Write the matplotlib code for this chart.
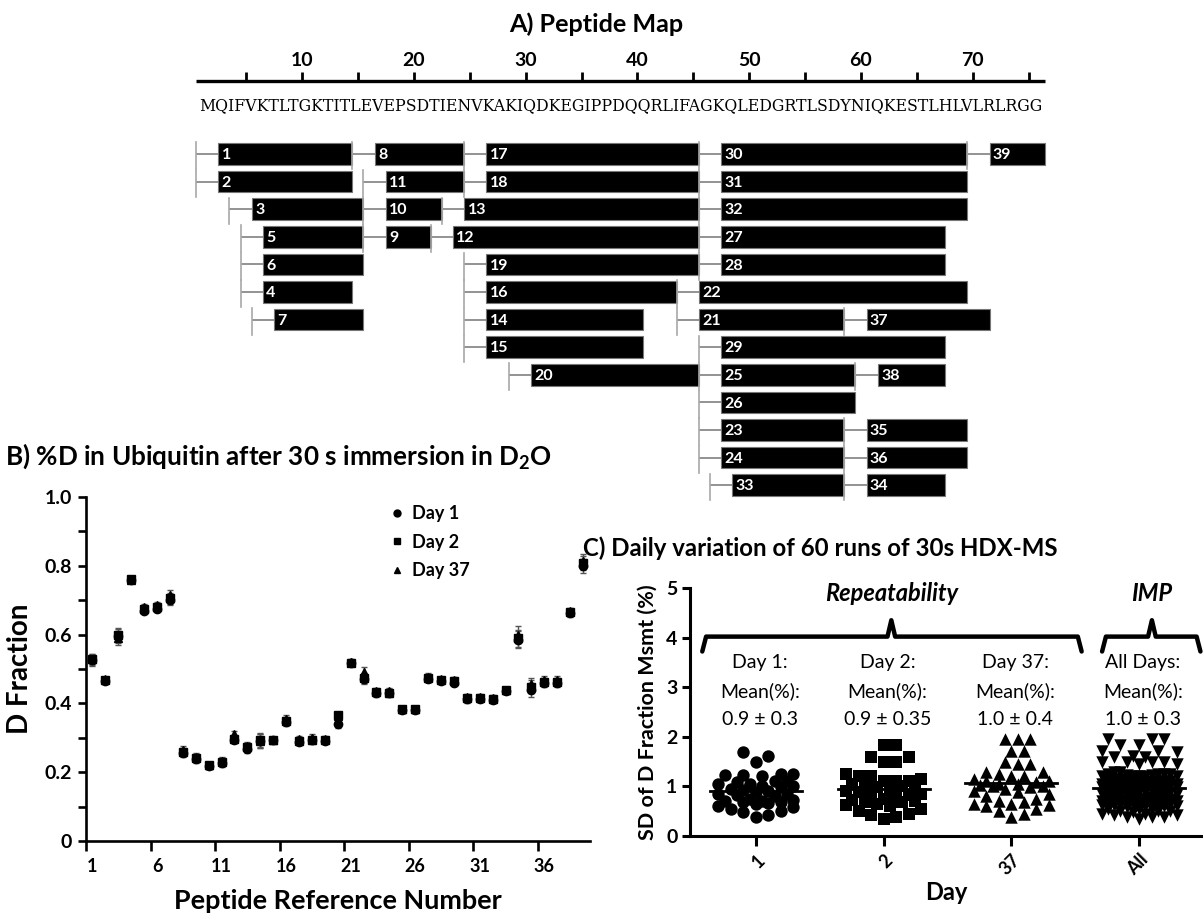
import matplotlib
matplotlib.use('Agg')
import matplotlib.pyplot as plt
from matplotlib.patches import Rectangle
from matplotlib.lines import Line2D
import numpy as np

plt.rcParams['font.family'] = ['Lato', 'DejaVu Sans']
plt.rcParams['mathtext.fontset'] = 'custom'
plt.rcParams['mathtext.rm'] = 'Lato:bold'
plt.rcParams['mathtext.it'] = 'Lato:bold:italic'
plt.rcParams['mathtext.bf'] = 'Lato:bold'

# ---------------- data ----------------
sequence = "MQIFVKTLTGKTITLEVEPSDTIENVKAKIQDKEGIPPDQQRLIFAGKQLEDGRTLSDYNIQKESTLHLVLRLRGG"
ruler_ticks = [5, 10, 15, 20, 25, 30, 35, 40, 45, 50, 55, 60, 65, 70, 75]
ruler_labels = [10, 20, 30, 40, 50, 60, 70]

pep_id    = [1, 2, 3, 4, 5, 6, 7, 8, 9, 10, 11, 12, 13, 14, 15, 16, 17, 18, 19, 20,
             21, 22, 23, 24, 25, 26, 27, 28, 29, 30, 31, 32, 33, 34, 35, 36, 37, 38, 39]
pep_start = [1, 1, 4, 5, 5, 5, 6, 15, 16, 16, 16, 22, 23, 25, 25, 25, 25, 25, 25, 29,
             44, 44, 46, 46, 46, 46, 46, 46, 46, 46, 46, 46, 47, 59, 59, 59, 59, 60, 70]
pep_end   = [14, 14, 15, 14, 15, 15, 15, 24, 21, 22, 24, 45, 45, 40, 40, 43, 45, 45, 45, 45,
             58, 69, 58, 58, 59, 59, 67, 67, 67, 69, 69, 69, 58, 67, 69, 69, 71, 67, 76]
pep_lane  = [1, 2, 3, 6, 4, 5, 7, 1, 4, 3, 2, 4, 3, 7, 8, 6, 1, 2, 5, 9,
             7, 6, 11, 12, 9, 10, 4, 5, 8, 1, 2, 3, 13, 13, 11, 12, 7, 9, 1]

peptide_ref = list(range(1, 40))
day1_D = [0.525, 0.465, 0.595, 0.760, 0.670, 0.675, 0.700, 0.255, 0.238, 0.218,
          0.226, 0.295, 0.268, 0.290, 0.293, 0.345, 0.288, 0.295, 0.292, 0.339,
          0.517, 0.470, 0.430, 0.430, 0.380, 0.380, 0.472, 0.466, 0.460, 0.412,
          0.413, 0.410, 0.437, 0.585, 0.440, 0.460, 0.460, 0.662, 0.800]
day2_D = [0.528, 0.468, 0.600, 0.762, 0.675, 0.680, 0.705, 0.260, 0.242, 0.220,
          0.230, 0.297, 0.273, 0.293, 0.293, 0.350, 0.290, 0.293, 0.293, 0.366,
          0.517, 0.473, 0.433, 0.431, 0.383, 0.383, 0.473, 0.468, 0.464, 0.415,
          0.415, 0.412, 0.439, 0.589, 0.449, 0.463, 0.463, 0.665, 0.808]
day37_D = [0.530, 0.470, 0.590, 0.760, 0.680, 0.685, 0.715, 0.265, 0.245, 0.222,
           0.233, 0.310, 0.275, 0.290, 0.295, 0.355, 0.297, 0.300, 0.297, 0.362,
           0.520, 0.490, 0.435, 0.435, 0.385, 0.385, 0.478, 0.470, 0.468, 0.418,
           0.418, 0.415, 0.440, 0.600, 0.455, 0.468, 0.468, 0.668, 0.815]
day1_err = [0.015, 0.008, 0.020, 0.008, 0.008, 0.010, 0.015, 0.010, 0.010, 0.008,
            0.010, 0.010, 0.012, 0.020, 0.008, 0.010, 0.008, 0.010, 0.008, 0.010,
            0.008, 0.015, 0.010, 0.010, 0.008, 0.008, 0.010, 0.008, 0.010, 0.010,
            0.010, 0.010, 0.008, 0.025, 0.020, 0.012, 0.012, 0.010, 0.020]
day2_err = day1_err
day37_err = day1_err

sd_day1 = [1.70, 1.62, 1.50, 1.25, 1.25, 1.22, 1.22, 1.20, 1.10, 1.10, 1.08, 1.05, 1.05,
           1.00, 1.00, 0.98, 0.95, 0.92, 0.90, 0.88, 0.85, 0.85, 0.82, 0.80, 0.75, 0.72,
           0.70, 0.70, 0.68, 0.68, 0.66, 0.65, 0.60, 0.58, 0.55, 0.50, 0.48, 0.42, 0.38]
sd_day2 = [1.83, 1.83, 1.60, 1.60, 1.50, 1.50, 1.25, 1.20, 1.20, 1.10, 1.05, 1.15, 1.10,
           1.10, 1.05, 1.00, 1.00, 0.98, 0.95, 0.90, 0.88, 0.85, 0.82, 0.80, 0.78, 0.75,
           0.72, 0.70, 0.68, 0.68, 0.65, 0.62, 0.60, 0.55, 0.50, 0.45, 0.42, 0.38, 0.35]
sd_day37 = [1.95, 1.95, 1.95, 1.72, 1.72, 1.50, 1.45, 1.45, 1.30, 1.30, 1.25, 1.20, 1.20,
            1.15, 1.10, 1.10, 1.08, 1.05, 1.05, 1.02, 1.00, 1.00, 0.98, 0.95, 0.90, 0.88,
            0.85, 0.80, 0.75, 0.70, 0.68, 0.65, 0.65, 0.62, 0.60, 0.55, 0.50, 0.45, 0.38]
day_labels = ['1', '2', '37', 'All']
mean_texts = ['Day 1:\nMean(%):\n0.9 \u00b1 0.3', 'Day 2:\nMean(%):\n0.9 \u00b1 0.35',
              'Day 37:\nMean(%):\n1.0 \u00b1 0.4', 'All Days:\nMean(%):\n1.0 \u00b1 0.3']

# ---------------- figure ----------------
W, H = 1203, 919
fig = plt.figure(figsize=(W / 100, H / 100), dpi=100)
renderer = fig.canvas.get_renderer()


def fx(px):
    return px / W


def fy(py):
    return 1 - py / H


def fit(t, target, vertical=False):
    bb = t.get_window_extent(renderer=renderer)
    cur = bb.height if vertical else bb.width
    t.set_fontsize(t.get_fontsize() * target / cur)
    return t


# ---------------- Panel A ----------------
res0, res_px = 190.2, 11.18
row0, row_px = 154.0, 27.6
axA = fig.add_axes([0, 0, 1, 1], zorder=0)
axA.set_xlim(-res0 / res_px, (W - res0) / res_px)
axA.set_ylim(1 + (H - row0) / row_px, 1 - row0 / row_px)
axA.axis('off')
axA.patch.set_alpha(0)


def ry(py):
    return 1 + (py - row0) / row_px


axA.plot([0.5, 76.5], [ry(81), ry(81)], color='black', lw=2.4, solid_capstyle='butt')
for t in ruler_ticks:
    axA.plot([t, t], [ry(81), ry(72)], color='black', lw=2.0, solid_capstyle='butt')
for t in ruler_labels:
    axA.text(t, ry(61), str(t), ha='center', va='center', fontsize=14, fontweight='bold')
ta = fig.text(fx(596), fy(24), 'A) Peptide Map', ha='center', va='center',
              fontsize=15, fontweight='bold')
fit(ta, 175)
ts = axA.text((1 + len(sequence)) / 2, ry(106), sequence, ha='center', va='center',
              fontsize=9.5, family='DejaVu Serif')
fit(ts, 850)

for pid, s, e, lane in zip(pep_id, pep_start, pep_end, pep_lane):
    x0, xb, x1 = s - 0.5, s + 1.5, e + 0.5
    axA.plot([x0, xb], [lane, lane], color='#8a8a8a', lw=1.3, solid_capstyle='butt')
    axA.plot([x0, x0], [lane - 0.42, lane + 0.55], color='#a8a8a8', lw=1.2)
    axA.add_patch(Rectangle((xb, lane - 0.39), x1 - xb, 0.78, facecolor='black',
                            edgecolor='#777777', lw=0.8))
    axA.text(xb + 0.3, lane + 0.04, str(pid), color='white', fontsize=11.5,
             fontweight='bold', ha='left', va='center')

# ---------------- Panel B ----------------
bl, br, bb_, bt = 86, 589.5, 841, 497
axB = fig.add_axes([fx(bl), fy(bb_), fx(br) - fx(bl), (bb_ - bt) / H])
for vals, errs, m in [(day1_D, day1_err, 'o'), (day2_D, day2_err, 's'), (day37_D, day37_err, '^')]:
    axB.errorbar(peptide_ref, vals, yerr=errs, fmt=m, color='black', ms=6,
                 ecolor='#555555', elinewidth=1, capsize=2.5, capthick=1)
axB.set_xlim(0.5, 39.5)
axB.set_ylim(0, 1.0)
for sp in ['top', 'right']:
    axB.spines[sp].set_visible(False)
for sp in ['left', 'bottom']:
    axB.spines[sp].set_linewidth(1.9)
axB.set_yticks([0, 0.2, 0.4, 0.6, 0.8, 1.0])
axB.set_yticklabels(['0', '0.2', '0.4', '0.6', '0.8', '1.0'])
axB.set_yticks([0.1, 0.3, 0.5, 0.7, 0.9], minor=True)
axB.tick_params(axis='y', which='both', length=6, width=1.9, labelsize=14, pad=4)
axB.set_xticks([1, 6, 11, 16, 21, 26, 31, 36])
axB.set_xticks([0.5, 5.5, 10.5, 15.5, 20.5, 25.5, 30.5, 35.5], minor=True)
axB.tick_params(axis='x', which='major', length=0, labelsize=13, pad=12)
axB.tick_params(axis='x', which='minor', length=7, width=1.9)
for lab in axB.get_xticklabels() + axB.get_yticklabels():
    lab.set_fontweight('bold')
axB.set_ylabel('D Fraction', fontsize=20, fontweight='bold', labelpad=8)
axB.set_xlabel('Peptide Reference Number', fontsize=18, fontweight='bold', labelpad=10)
fit(axB.xaxis.label, 327)
handles = [Line2D([], [], marker=m, color='black', ls='none', ms=5) for m in ['o', 's', '^']]
axB.legend(handles, ['Day 1', 'Day 2', 'Day 37'], loc='upper left',
           bbox_to_anchor=(fx(392), fy(505)), bbox_transform=fig.transFigure,
           frameon=False, prop={'weight': 'bold', 'size': 13}, handlelength=0.6,
           handletextpad=0.5, labelspacing=0.65, borderpad=0, borderaxespad=0)
tb = fig.text(fx(5), fy(456), 'B) %D in Ubiquitin after 30 s immersion in D$_2$O',
              ha='left', va='center', fontsize=15, fontweight='bold')
fit(tb, 548)

# ---------------- Panel C ----------------
cl, cr, cb, ct = 690, 1203, 836, 588
axC = fig.add_axes([fx(cl), fy(cb), fx(cr) - fx(cl), (cb - ct) / H])
xlo, xhi = 0.484, 4.5
axC.set_xlim(xlo, xhi)
axC.set_ylim(0, 5)
xpx = (cr - cl) / (xhi - xlo)
ypx = (cb - ct) / 5.0


def swarm(vals, center, diam=12.5, maxoff=0.34):
    vals = np.asarray(vals, float)
    order = np.argsort(vals)
    step = diam / xpx / 2.0
    cands = [0.0]
    k = 1
    while k * step <= maxoff:
        cands += [k * step, -k * step]
        k += 1
    placed = []
    xs = np.zeros(len(vals))
    for i in order:
        yv = vals[i] * ypx
        best, bestd = 0.0, -1
        for c in cands:
            xv = c * xpx
            dmin = min([np.hypot(xv - a, yv - b) for a, b in placed], default=1e9)
            if dmin >= diam:
                best = c
                break
            if dmin > bestd:
                bestd, best = dmin, c
        xs[i] = center + best
        placed.append((best * xpx, yv))
    return xs


sd_all = sd_day1 + sd_day2 + sd_day37
groups = [(sd_day1, 'o'), (sd_day2, 's'), (sd_day37, '^'), (sd_all, 'v')]
for k, (vals, m) in enumerate(groups):
    c = k + 1
    xs = swarm(vals, c)
    axC.scatter(xs, vals, marker=m, s=80, color='black', linewidths=0, zorder=3)
    mu = np.mean(vals)
    axC.plot([c - 0.36, c + 0.36], [mu, mu], color='black', lw=2, zorder=4)
    for j, line in enumerate(mean_texts[k].split('\n')):
        axC.text(c + 0.03, 3.49 - j * 0.575, line, ha='center', va='center', fontsize=14)

for sp in ['top', 'right']:
    axC.spines[sp].set_visible(False)
for sp in ['left', 'bottom']:
    axC.spines[sp].set_linewidth(2.2)
axC.set_yticks([0, 1, 2, 3, 4, 5])
axC.tick_params(axis='y', length=6, width=2.2, labelsize=14, pad=3)
axC.set_xticks([1, 2, 3, 4])
axC.set_xticklabels(day_labels, rotation=45, ha='right', rotation_mode='anchor')
axC.tick_params(axis='x', length=7, width=2.2, labelsize=13, pad=4)
for lab in axC.get_xticklabels() + axC.get_yticklabels():
    lab.set_fontweight('bold')
axC.set_ylabel('SD of D Fraction Msmt (%)', fontsize=13, fontweight='bold', labelpad=6)
fit(axC.yaxis.label, 255, vertical=True)
axC.set_xlabel('Day', fontsize=17, fontweight='bold', labelpad=2)


def bracket(a, b, tip):
    axC.plot([a, a + 0.03, tip - 0.03, tip, tip + 0.03, b - 0.03, b],
             [3.72, 4.02, 4.02, 4.35, 4.02, 4.02, 3.72], color='black', lw=3.2,
             solid_joinstyle='round', solid_capstyle='round', clip_on=False)


bracket(0.58, 3.55, 2.06)
bracket(3.71, 4.48, 4.1)
axC.text(2.06, 4.88, 'Repeatability', ha='center', va='center', fontsize=17,
         fontweight='bold', style='italic')
axC.text(4.1, 4.88, 'IMP', ha='center', va='center', fontsize=17,
         fontweight='bold', style='italic')
tc = fig.text(fx(583), fy(548), 'C) Daily variation of 60 runs of 30s HDX-MS',
              ha='left', va='center', fontsize=15, fontweight='bold')
fit(tc, 475)

fig.savefig('out.png', dpi=100)
